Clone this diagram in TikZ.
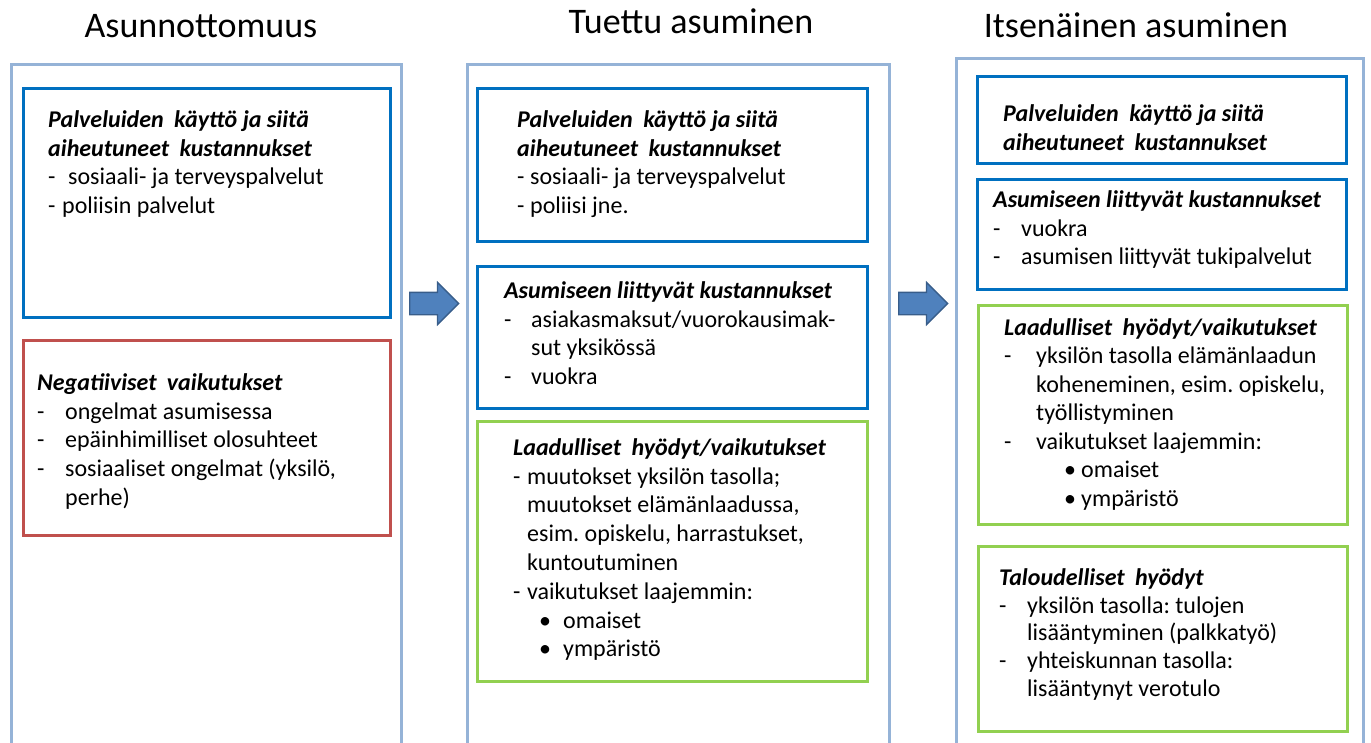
\documentclass[tikz,border=0pt]{standalone}
\usepackage{fontspec}
\setmainfont{Carlito}
\usetikzlibrary{shapes.arrows}
\definecolor{colframe}{HTML}{95B3D7}
\definecolor{boxblue}{HTML}{0070C0}
\definecolor{boxred}{HTML}{C0504D}
\definecolor{boxgreen}{HTML}{92D050}
\definecolor{arrowfill}{HTML}{4F81BD}
\definecolor{arrowline}{HTML}{385D8A}
\newcommand\bhead[1]{\textbf{\textit{#1}}}
\newcommand\dashitem[2]{\makebox[#1][l]{-}#2}
\newcommand\firstline{\rule{0pt}{20pt}}
\newcommand\bulitem[3]{\hspace*{#1}\makebox[#2][l]{•}#3}
\newcommand\wsp{\hspace{5pt} }
\frenchspacing
\begin{document}
\begin{tikzpicture}[x=1pt,y=-1pt,
  colbox/.style={draw=colframe, line width=3pt, anchor=north west, inner sep=0pt},
  framebox/.style={draw=#1, line width=3pt, anchor=north west, inner sep=0pt, fill=white},
  body/.style={anchor=north west, inner sep=0pt, align=left, font=\fontsize{24}{#1}\selectfont\frenchspacing},
  body/.default=28.8,
  title/.style={anchor=base, inner sep=0pt, font=\fontsize{36}{40}\selectfont},
  flow/.style={single arrow, draw=arrowline, fill=arrowfill, line width=1.3pt,
    minimum height=49pt, single arrow head extend=10pt, inner sep=0pt,
    text height=21pt, text depth=0pt, text width=0pt, anchor=tail}
]
\useasboundingbox (0,0) rectangle (1371,742);
\clip (0,0) rectangle (1371,742);

% titles
\node[title] (t1) at (201,37) {Asunnottomuus};
\node[title] (t2) at (691,33) {Tuettu asuminen};
\node[title] (t3) at (1136,37) {Itsenäinen asuminen};

% columns
\node[colbox, minimum width=390pt, minimum height=720pt] (col1) at (10,63) {};
\node[colbox, minimum width=422pt, minimum height=720pt] (col2) at (466,63) {};
\node[colbox, minimum width=407pt, minimum height=720pt] (col3) at (955,57) {};

% column 1 boxes
\node[framebox=boxblue, minimum width=367pt, minimum height=229pt] (a1) at (22,87) {};
\node[framebox=boxred, minimum width=367pt, minimum height=195pt] (a2) at (22,339) {};
% column 2 boxes
\node[framebox=boxblue, minimum width=390pt, minimum height=153pt] (b1) at (476,87) {};
\node[framebox=boxblue, minimum width=390pt, minimum height=142pt] (b2) at (476,265) {};
\node[framebox=boxgreen, minimum width=390pt, minimum height=260pt] (b3) at (476,420) {};
% column 3 boxes
\node[framebox=boxblue, minimum width=369pt, minimum height=87pt] (c1) at (976,75) {};
\node[framebox=boxblue, minimum width=369pt, minimum height=110pt] (c2) at (976,178) {};
\node[framebox=boxgreen, minimum width=369pt, minimum height=219pt] (c3) at (977,304) {};
\node[framebox=boxgreen, minimum width=369pt, minimum height=185pt] (c4) at (977,545) {};

% arrows
\node[flow] (ar1) at (409,303.5) {};
\node[flow] (ar2) at (898,303.5) {};

% texts column 1
\node[body] (a1t) at (48,107) {\firstline\bhead{Palveluiden\wsp käyttö ja siitä}\\
\bhead{aiheutuneet\wsp kustannukset}\\
\dashitem{20pt}{sosiaali- ja terveyspalvelut}\\
\dashitem{14pt}{poliisin palvelut}};
\node[body] (a2t) at (37,370) {\firstline\bhead{Negatiiviset\wsp vaikutukset}\\
\dashitem{28pt}{ongelmat asumisessa}\\
\dashitem{28pt}{epäinhimilliset olosuhteet}\\
\dashitem{28pt}{sosiaaliset ongelmat (yksilö,}\\
\hspace*{28pt}perhe)};

% texts column 2
\node[body] (b1t) at (517,107) {\firstline\bhead{Palveluiden\wsp käyttö ja siitä}\\
\bhead{aiheutuneet\wsp kustannukset}\\
\dashitem{13pt}{sosiaali- ja terveyspalvelut}\\
\dashitem{13pt}{poliisi jne.}};
\node[body] (b2t) at (504,278) {\firstline\bhead{Asumiseen liittyvät kustannukset}\\
\dashitem{27pt}{asiakasmaksut/vuorokausimak-}\\
\hspace*{27pt}sut yksikössä\\
\dashitem{27pt}{vuokra}};
\node[body] (b3t) at (513,435) {\firstline\bhead{Laadulliset\wsp hyödyt/vaikutukset}\\
\dashitem{14pt}{muutokset yksilön tasolla;}\\
\hspace*{14pt}muutokset elämänlaadussa,\\
\hspace*{14pt}esim. opiskelu, harrastukset,\\
\hspace*{14pt}kuntoutuminen\\
\dashitem{14pt}{vaikutukset laajemmin:}\\
\bulitem{26pt}{24pt}{omaiset}\\
\bulitem{26pt}{24pt}{ympäristö}};

% texts column 3
\node[body] (c1t) at (1003,101) {\firstline\bhead{Palveluiden\wsp käyttö ja siitä}\\
\bhead{aiheutuneet\wsp kustannukset}};
\node[body] (c2t) at (993,187) {\firstline\bhead{Asumiseen liittyvät kustannukset}\\
\dashitem{28pt}{vuokra}\\
\dashitem{28pt}{asumisen liittyvät tukipalvelut}};
\node[body=28.5] (c3t) at (1004,315) {\firstline\bhead{Laadulliset\wsp hyödyt/vaikutukset}\\
\dashitem{32pt}{yksilön tasolla elämänlaadun}\\
\hspace*{32pt}koheneminen, esim. opiskelu,\\
\hspace*{32pt}työllistyminen\\
\dashitem{32pt}{vaikutukset laajemmin:}\\
\bulitem{60pt}{17pt}{omaiset}\\
\bulitem{60pt}{17pt}{ympäristö}};
\node[body=27.8] (c4t) at (999,565) {\firstline\bhead{Taloudelliset\wsp hyödyt}\\
\dashitem{28pt}{yksilön tasolla: tulojen}\\
\hspace*{28pt}lisääntyminen (palkkatyö)\\
\dashitem{28pt}{yhteiskunnan tasolla:}\\
\hspace*{28pt}lisääntynyt verotulo};
\end{tikzpicture}
\end{document}
